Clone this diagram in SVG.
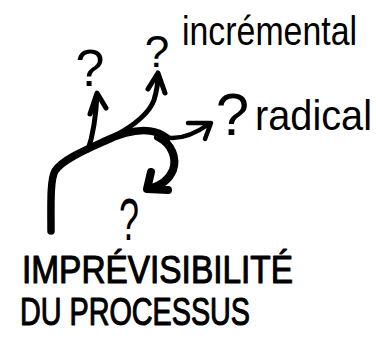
<svg xmlns="http://www.w3.org/2000/svg" width="376" height="338" viewBox="0 0 376 338">
  <style>
    .ink { fill: none; stroke: #000; stroke-linecap: round; stroke-linejoin: round; }
    .hand { font-family: "Liberation Sans", Arial, sans-serif; fill: #000; }
    .caps { font-family: "Liberation Sans", Arial, sans-serif; fill: #000; stroke: #000; stroke-width: 1.1; stroke-linejoin: round; }
    .q { font-family: "Liberation Sans", Arial, sans-serif; fill: #000; text-anchor: middle; }
  </style>
  <rect width="376" height="338" fill="#fff"/>
  <g id="connectors">
    <path class="ink" stroke-width="7.5" d="M 51,231 C 51,205 50,180 55,171 C 62,160 85,150 105,141 C 120,134 135,129 150,131 C 158,132 163,135 167,138"/>
    <path id="arrow-left" class="ink" stroke-width="5" d="M 88,150 C 93,135 96,115 97,95 M 90,114 L 97,93 L 106,108"/>
    <path id="arrow-incremental" class="ink" stroke-width="5" d="M 116,135 C 135,125 150,112 154,100 C 157,90 158,82 158,75 M 148,89 L 158,73 L 165,93"/>
    <path id="arrow-radical" class="ink" stroke-width="4.5" d="M 163,137 C 180,141 195,134 209,124 M 188,123 L 211,123 L 205,139"/>
    <path id="arrow-down" class="ink" stroke-width="8" d="M 158,137 C 172,144 177,158 173,170 C 169,180 160,186 149,189 M 151,172 L 147,189 L 168,190"/>
  </g>
  <g id="q-left"><text class="q" x="90" y="86" font-size="52">?</text></g>
  <g id="q-incremental"><text class="q" x="157" y="67" font-size="44">?</text></g>
  <g id="label-incremental"><text class="hand" transform="translate(182,45) scale(1,1.2)" x="0" y="0" font-size="34" textLength="175" lengthAdjust="spacingAndGlyphs">incrémental</text></g>
  <g id="q-radical"><text class="q" x="232.5" y="135" font-size="60">?</text></g>
  <g id="label-radical"><text class="hand" transform="translate(255,130) scale(1,1.1)" x="0" y="0" font-size="39" textLength="117" lengthAdjust="spacingAndGlyphs">radical</text></g>
  <g id="q-down"><text class="q" transform="translate(129,240) scale(0.6,1)" x="0" y="0" font-size="60">?</text></g>
  <g id="title">
    <text class="caps" x="22" y="283" font-size="39" textLength="271" lengthAdjust="spacingAndGlyphs">IMPRÉVISIBILITÉ</text>
    <text class="caps" x="20" y="325" font-size="38" textLength="230" lengthAdjust="spacingAndGlyphs">DU PROCESSUS</text>
  </g>
</svg>
